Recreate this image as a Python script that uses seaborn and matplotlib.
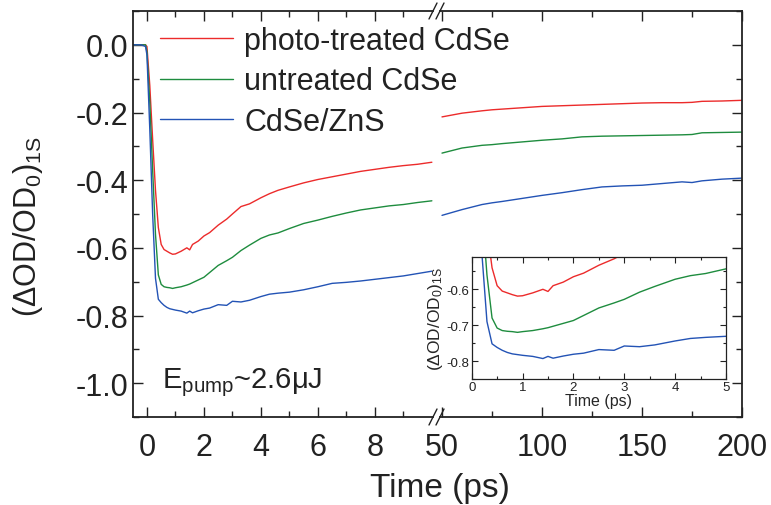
import numpy as np
import pandas as pd
import matplotlib
matplotlib.use("Agg")
import matplotlib.pyplot as plt
import seaborn as sns
from matplotlib.ticker import MultipleLocator, FixedLocator
from matplotlib.lines import Line2D

# ---------------- data ----------------
series_names = ["photo-treated CdSe", "untreated CdSe", "CdSe/ZnS"]
series_colors = ["#ec2b2b", "#1e8c3e", "#2353b5"]

t_early = [-0.5, -0.2, -0.05, 0.0, 0.1, 0.2, 0.3, 0.4, 0.5, 0.6, 0.7, 0.8, 0.9,
           1.0, 1.2, 1.4, 1.5, 1.6, 1.8, 2.0, 2.2, 2.5, 2.8, 3.0, 3.3, 3.6,
           4.0, 4.3, 4.6, 5.0, 5.5, 6.0, 6.5, 7.0, 7.5, 8.0, 8.5, 9.0, 9.5, 10.0]
red_early = [0.0, 0.0, 0.0, -0.005, -0.12, -0.28, -0.43, -0.54, -0.590, -0.605,
             -0.610, -0.615, -0.619, -0.618, -0.610, -0.600, -0.606, -0.590,
             -0.580, -0.565, -0.555, -0.533, -0.515, -0.500, -0.478, -0.470,
             -0.452, -0.440, -0.430, -0.420, -0.408, -0.398, -0.390, -0.382,
             -0.374, -0.368, -0.362, -0.357, -0.353, -0.347]
green_early = [0.0, 0.0, 0.0, -0.02, -0.17, -0.37, -0.56, -0.68, -0.708, -0.715,
               -0.717, -0.718, -0.720, -0.718, -0.715, -0.710, -0.707, -0.703,
               -0.695, -0.687, -0.673, -0.652, -0.638, -0.628, -0.608, -0.592,
               -0.572, -0.562, -0.556, -0.543, -0.528, -0.518, -0.507, -0.497,
               -0.488, -0.482, -0.476, -0.472, -0.466, -0.461]
blue_early = [0.0, 0.0, -0.005, -0.03, -0.25, -0.50, -0.69, -0.752, -0.762, -0.770,
              -0.776, -0.780, -0.782, -0.784, -0.787, -0.793, -0.787, -0.792,
              -0.786, -0.781, -0.778, -0.768, -0.770, -0.758, -0.760, -0.755,
              -0.744, -0.737, -0.734, -0.731, -0.724, -0.715, -0.705, -0.702,
              -0.698, -0.693, -0.688, -0.683, -0.676, -0.669]

t_late = [50, 60, 70, 75, 80, 90, 100, 110, 120, 125, 130, 140, 150, 160, 170,
          175, 180, 190, 200]
red_late = [-0.213, -0.202, -0.195, -0.192, -0.190, -0.186, -0.182, -0.180,
            -0.178, -0.177, -0.176, -0.174, -0.172, -0.171, -0.171, -0.170,
            -0.167, -0.166, -0.164]
green_late = [-0.320, -0.305, -0.297, -0.295, -0.292, -0.287, -0.282, -0.278,
              -0.272, -0.271, -0.270, -0.269, -0.268, -0.267, -0.266, -0.265,
              -0.260, -0.259, -0.258]
blue_late = [-0.504, -0.487, -0.472, -0.467, -0.463, -0.454, -0.445, -0.437,
             -0.428, -0.424, -0.420, -0.417, -0.415, -0.410, -0.405, -0.407,
             -0.402, -0.397, -0.394]

main_ylabel = "(ΔOD/OD$_{0}$)$_{\\mathrm{1S}}$"
xlabel = "Time (ps)"
annot = "E$_{\\mathrm{pump}}$~2.6μJ"


def long_df(t, vals):
    frames = []
    for name, v in zip(series_names, vals):
        frames.append(pd.DataFrame({"time": t, "value": v, "sample": name}))
    return pd.concat(frames, ignore_index=True)


early = long_df(t_early, [red_early, green_early, blue_early])
late = long_df(t_late, [red_late, green_late, blue_late])
palette = dict(zip(series_names, series_colors))

# ---------------- style ----------------
sns.set_style("ticks")
plt.rcParams["font.family"] = ["Liberation Sans", "DejaVu Sans"]
plt.rcParams.update({
    "mathtext.fontset": "custom",
    "mathtext.rm": "Liberation Sans",
    "mathtext.it": "Liberation Sans:italic",
    "mathtext.bf": "Liberation Sans:bold",
    "axes.unicode_minus": False,
    "axes.linewidth": 1.3,
    "axes.edgecolor": "#222222",
    "xtick.color": "#222222",
    "ytick.color": "#222222",
    "text.color": "#222222",
})

W, H = 771.0, 506.0
fig = plt.figure(figsize=(W / 100, H / 100), dpi=100)


def box(x0, y0, x1, y1):
    return [x0 / W, 1 - y1 / H, (x1 - x0) / W, (y1 - y0) / H]


ax1 = fig.add_axes(box(132.7, 12, 433, 418))
ax2 = fig.add_axes(box(440, 12, 742, 418))
axin = fig.add_axes(box(471.7, 258, 726, 380))

lw = 1.0
for ax, d in ((ax1, early), (ax2, late), (axin, early)):
    sns.lineplot(data=d, x="time", y="value", hue="sample", palette=palette,
                 hue_order=series_names, estimator=None, sort=False,
                 linewidth=lw, ax=ax, legend=False)
    ax.set_xlabel("")
    ax.set_ylabel("")

# main axes limits
for ax in (ax1, ax2):
    ax.set_ylim(-1.1, 0.1)
    ax.yaxis.set_major_locator(MultipleLocator(0.2))
    ax.yaxis.set_minor_locator(MultipleLocator(0.1))
ax1.set_xlim(-0.5, 10.04)
ax1.xaxis.set_major_locator(FixedLocator([0, 2, 4, 6, 8]))
ax1.xaxis.set_minor_locator(FixedLocator([1, 3, 5, 7, 9]))
ax2.set_xlim(49, 200)
ax2.xaxis.set_major_locator(FixedLocator([50, 100, 150, 200]))
ax2.xaxis.set_minor_locator(FixedLocator([75, 125, 175]))

ax1.spines["right"].set_visible(False)
ax2.spines["left"].set_visible(False)
ax2.patch.set_visible(False)

ax1.tick_params(which="both", direction="in", top=True, bottom=True,
                left=True, right=False, labelsize=22, width=1.0)
ax1.tick_params(axis="x", which="major", pad=11)
ax1.tick_params(axis="y", which="major", pad=3)
ax2.tick_params(which="both", direction="in", top=True, bottom=True,
                left=False, right=True, labelleft=False, labelright=False,
                labelsize=22, width=1.0)
ax2.tick_params(axis="x", which="major", pad=11)
for ax in (ax1, ax2):
    ax.tick_params(which="major", length=7)
    ax.tick_params(which="minor", length=4)

ax1.yaxis.set_major_formatter(plt.FormatStrFormatter("%.1f"))

# inset
axin.set_xlim(0, 5)
axin.set_ylim(-0.85, -0.51)
axin.xaxis.set_major_locator(MultipleLocator(1))
axin.xaxis.set_minor_locator(MultipleLocator(0.5))
axin.yaxis.set_major_locator(FixedLocator([-0.8, -0.7, -0.6]))
axin.yaxis.set_minor_locator(FixedLocator([-0.85, -0.75, -0.65, -0.55]))
axin.yaxis.set_major_formatter(plt.FormatStrFormatter("%.1f"))
axin.tick_params(which="both", direction="in", top=True, bottom=True,
                 left=True, right=True, labelsize=9.5, width=0.8, pad=1.5)
axin.tick_params(which="major", length=4)
axin.tick_params(which="minor", length=2.5)
for s in axin.spines.values():
    s.set_linewidth(0.9)
axin.set_xlabel(xlabel, fontsize=11.5, labelpad=0)
axin.set_ylabel(main_ylabel, fontsize=12.5, labelpad=1)

# axis labels (shared across broken axis)
fig.text(440 / W, 1 - 489 / H, xlabel, ha="center", va="center", fontsize=24)
fig.text(28 / W, 1 - 226 / H, main_ylabel, ha="center", va="center",
         fontsize=22, rotation=90)

# annotation
fig.text(162 / W, 1 - 388 / H, annot, ha="left", va="baseline", fontsize=21)

# legend
handles = ax1.get_lines()[:3]
fig.legend(handles, series_names, loc="upper left",
           bbox_to_anchor=(160 / W, 1 - 27 / H), frameon=False,
           fontsize=22, handlelength=2.39, handletextpad=0.36,
           labelspacing=0.34, borderpad=0, borderaxespad=0)

# axis-break marks
for cx in (433, 440):
    for cy in (12, 418):
        fig.add_artist(Line2D([(cx - 4) / W, (cx + 4) / W],
                              [1 - (cy + 8) / H, 1 - (cy - 8) / H],
                              color="#222222", lw=1.0))

fig.savefig("out.png", dpi=100)
